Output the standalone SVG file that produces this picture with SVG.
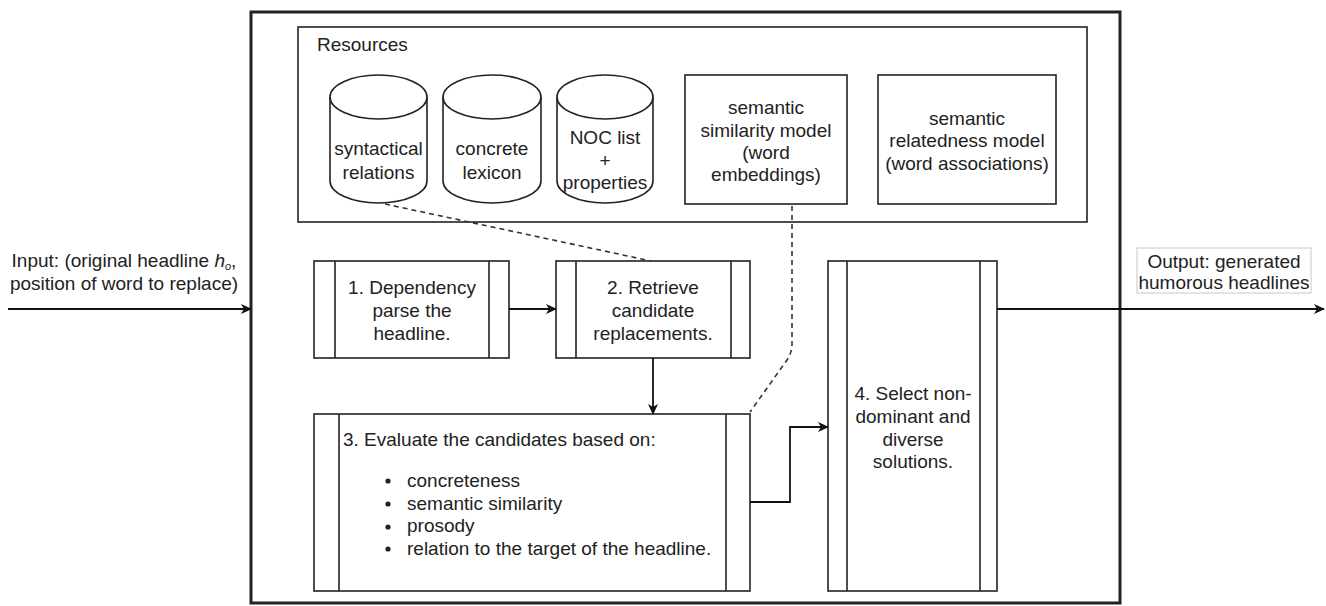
<svg xmlns="http://www.w3.org/2000/svg" width="1326" height="606" viewBox="0 0 1326 606">
<style>
  text { font-family: "Liberation Sans", Arial, sans-serif; font-size: 19px; fill: #222; }
  .c { text-anchor: middle; }
  .box { fill: #fff; stroke: #222; stroke-width: 1.6; }
  .ln { fill: none; stroke: #222; stroke-width: 1.6; }
  .dash { fill: none; stroke: #333; stroke-width: 1.6; stroke-dasharray: 5 4; }
  .arrow { fill: none; stroke: #111; stroke-width: 1.8; marker-end: url(#ah); }
</style>
<defs>
  <marker id="ah" markerWidth="12" markerHeight="10" refX="10" refY="5" orient="auto" markerUnits="userSpaceOnUse">
    <path d="M0,0 L11,5 L0,10 L3,5 z" fill="#111"/>
  </marker>
</defs>
<rect width="1326" height="606" fill="#fff"/>

<g id="main">
  <rect x="251" y="12" width="869" height="591" fill="#fff" stroke="#222" stroke-width="3"/>
</g>

<g id="resources">
  <rect class="box" x="298" y="27" width="789" height="195"/>
  <text x="317" y="51" font-size="18">Resources</text>
</g>

<g id="cyl-syntactical">
  <path class="box" d="M330,97 A48.5,22 0 0 1 427,97 L427,181 A48.5,22 0 0 1 330,181 Z"/>
  <path class="ln" d="M330,97 A48.5,22 0 0 0 427,97"/>
  <text class="c" x="378.5" y="155">syntactical</text>
  <text class="c" x="378.5" y="179">relations</text>
</g>
<g id="cyl-concrete">
  <path class="box" d="M443,97 A49,22 0 0 1 541,97 L541,181 A49,22 0 0 1 443,181 Z"/>
  <path class="ln" d="M443,97 A49,22 0 0 0 541,97"/>
  <text class="c" x="492" y="155">concrete</text>
  <text class="c" x="492" y="179">lexicon</text>
</g>
<g id="cyl-noc">
  <path class="box" d="M557,97 A48,22 0 0 1 653,97 L653,181 A48,22 0 0 1 557,181 Z"/>
  <path class="ln" d="M557,97 A48,22 0 0 0 653,97"/>
  <text class="c" x="605" y="144">NOC list</text>
  <text class="c" x="605" y="167">+</text>
  <text class="c" x="605" y="189">properties</text>
</g>

<g id="similarity">
  <rect class="box" x="685" y="75" width="162" height="129"/>
  <text class="c" x="766" y="114">semantic</text>
  <text class="c" x="766" y="137">similarity model</text>
  <text class="c" x="766" y="159">(word</text>
  <text class="c" x="766" y="181">embeddings)</text>
</g>

<g id="relatedness">
  <rect class="box" x="878" y="75" width="178" height="129"/>
  <text class="c" x="967" y="125">semantic</text>
  <text class="c" x="967" y="147">relatedness model</text>
  <text class="c" x="967" y="170">(word associations)</text>
</g>

<g id="step1">
  <rect class="box" x="314" y="261" width="195" height="97"/>
  <line class="ln" x1="335" y1="261" x2="335" y2="358"/>
  <line class="ln" x1="489" y1="261" x2="489" y2="358"/>
  <text class="c" x="412" y="294">1. Dependency</text>
  <text class="c" x="412" y="317">parse the</text>
  <text class="c" x="412" y="340">headline.</text>
</g>

<g id="step2">
  <rect class="box" x="556" y="261" width="194" height="97"/>
  <line class="ln" x1="576" y1="261" x2="576" y2="358"/>
  <line class="ln" x1="731" y1="261" x2="731" y2="358"/>
  <text class="c" x="653" y="294">2. Retrieve</text>
  <text class="c" x="653" y="317">candidate</text>
  <text class="c" x="653" y="340">replacements.</text>
</g>

<g id="step3">
  <rect class="box" x="314" y="414" width="436" height="177"/>
  <line class="ln" x1="339" y1="414" x2="339" y2="591"/>
  <line class="ln" x1="726" y1="414" x2="726" y2="591"/>
  <text x="343" y="446">3. Evaluate the candidates based on:</text>
  <circle cx="388" cy="481" r="2.6" fill="#222"/>
  <circle cx="388" cy="504" r="2.6" fill="#222"/>
  <circle cx="388" cy="527" r="2.6" fill="#222"/>
  <circle cx="388" cy="549" r="2.6" fill="#222"/>
  <text x="407" y="487">concreteness</text>
  <text x="407" y="510">semantic similarity</text>
  <text x="407" y="532">prosody</text>
  <text x="407" y="555">relation to the target of the headline.</text>
</g>

<g id="step4">
  <rect class="box" x="828" y="261" width="169" height="330"/>
  <line class="ln" x1="847" y1="261" x2="847" y2="591"/>
  <line class="ln" x1="980" y1="261" x2="980" y2="591"/>
  <text class="c" x="913" y="400">4. Select non-</text>
  <text class="c" x="913" y="423">dominant and</text>
  <text class="c" x="913" y="446">diverse</text>
  <text class="c" x="913" y="468">solutions.</text>
</g>

<g id="input-label">
  <text class="c" x="124" y="267" font-size="17.7">Input: (original headline <tspan font-style="italic">h</tspan><tspan font-size="11" dy="3" font-style="italic">o</tspan><tspan dy="-3">,</tspan></text>
  <text class="c" x="124" y="290" font-size="17.7">position of word to replace)</text>
</g>

<g id="output-label">
  <rect x="1137" y="248" width="174" height="45" fill="#fff" stroke="#c8c8c8" stroke-width="1"/>
  <text class="c" x="1224" y="268">Output: generated</text>
  <text class="c" x="1224" y="289">humorous headlines</text>
</g>

<g id="connectors">
  <line class="arrow" x1="8" y1="309" x2="251" y2="309"/>
  <line class="arrow" x1="509" y1="309" x2="556" y2="309"/>
  <line class="arrow" x1="653" y1="358" x2="653" y2="414"/>
  <polyline class="arrow" points="750,502 790,502 790,427 828,427"/>
  <line class="arrow" x1="997" y1="309" x2="1324" y2="309"/>
  <line class="dash" x1="385" y1="204" x2="651" y2="261"/>
  <path class="dash" d="M792,206 L792,345 Q792,352 787,360 L750,412"/>
</g>
</svg>
